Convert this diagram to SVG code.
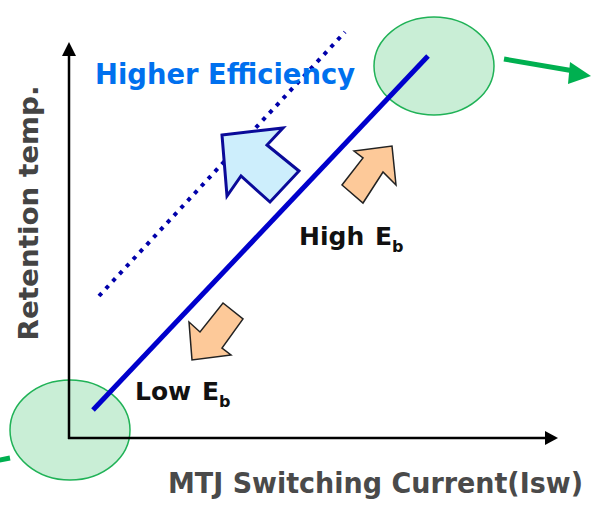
<svg xmlns="http://www.w3.org/2000/svg" width="602" height="505" viewBox="0 0 602 505">
<defs>
<style>
.ell{fill:#c9eed6;stroke:#20b257;stroke-width:1.5}
.lbl{font-family:"DejaVu Sans",sans-serif;font-weight:bold}
.orange{fill:#fdc999;stroke:#222;stroke-width:1.5;stroke-linejoin:miter}
</style>
</defs>
<g id="ellipse-low"><ellipse class="ell" cx="70" cy="430" rx="60" ry="50"/></g>
<g id="ellipse-high"><ellipse class="ell" cx="434" cy="66" rx="60" ry="49"/></g>
<g id="connectors">
<line x1="69" y1="439" x2="69" y2="56" stroke="#000" stroke-width="2.5"/>
<path d="M62,56 L69,42 L76,56 Z" fill="#000"/>
<line x1="68" y1="438" x2="545" y2="438" stroke="#000" stroke-width="2.5"/>
<path d="M545,431 L558,438 L545,445 Z" fill="#000"/>
<line x1="93" y1="410" x2="428" y2="56" stroke="#0000cc" stroke-width="5"/>
<line x1="99" y1="296" x2="345" y2="32" stroke="#0000aa" stroke-width="4" stroke-dasharray="4 6"/>
<line x1="504" y1="59" x2="574" y2="71" stroke="#00b050" stroke-width="5"/>
<path d="M570,62 L591,76 L568,84 Z" fill="#00b050"/>
<line x1="-10" y1="462" x2="10" y2="458" stroke="#00b050" stroke-width="5"/>
</g>
<g id="arrow-efficiency"><path d="M222,135 L283,128 L267,145 L299,171 L270,202 L241,176 L227,196 Z" fill="#cdeefc" stroke="#0a0a99" stroke-width="3" stroke-linejoin="miter"/></g>
<g id="arrow-high"><path class="orange" d="M392,146 L396,185 L383,172 L363,203 L342,185 L363,158 L354,151 Z"/></g>
<g id="arrow-low"><path class="orange" d="M192,360 L189,322 L200,332 L223,303 L243,319 L222,348 L231,355 Z"/></g>
<g id="label-efficiency"><text class="lbl" x="95" y="84" font-size="29" textLength="260" lengthAdjust="spacingAndGlyphs" fill="#0070ee">Higher Efficiency</text></g>
<g id="label-high"><text class="lbl" x="299" y="245" font-size="25" fill="#111">High <tspan dx="2">E</tspan><tspan font-size="16" dy="7">b</tspan></text></g>
<g id="label-low"><text class="lbl" x="135" y="400" font-size="25" fill="#111">Low <tspan dx="2">E</tspan><tspan font-size="16" dy="7">b</tspan></text></g>
<g id="label-y"><text class="lbl" transform="translate(38,213) rotate(-90)" text-anchor="middle" font-size="27" textLength="255" lengthAdjust="spacingAndGlyphs" fill="#444">Retention temp.</text></g>
<g id="label-x"><text class="lbl" x="168" y="493" font-size="28" textLength="415" lengthAdjust="spacingAndGlyphs" fill="#4a4a4a">MTJ Switching Current(Isw)</text></g>
</svg>
